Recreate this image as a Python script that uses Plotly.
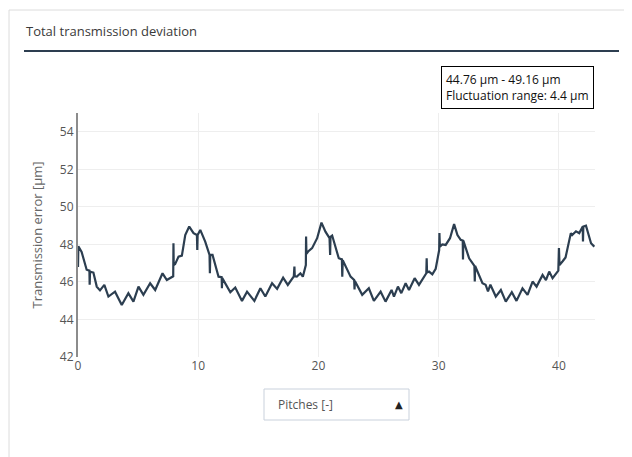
import plotly.graph_objects as go

# ---- data ----
pitch = [
    0.0, 0.03, 0.3, 0.72, 0.95, 0.97, 1.0, 1.28, 1.56, 1.83, 2.19, 2.53, 3.08, 3.64, 4.19, 4.61,
    5.03, 5.44, 6.0, 6.42, 7.03, 7.39, 7.92, 7.94, 7.96, 8.08, 8.36, 8.64,
    8.92, 9.25, 9.61, 9.89, 9.92, 9.95, 10.17, 10.58, 10.94, 10.97, 11.0, 11.19, 11.42, 11.69,
    11.95, 11.97, 12.0, 12.67, 13.08, 13.64, 14.06, 14.67, 15.17, 15.58, 16.14, 16.56, 17.06,
    17.45, 17.95, 18.0, 18.03, 18.2, 18.5, 18.7, 18.95, 18.97, 19.0, 19.14, 19.47, 19.89, 20.25,
    20.58, 20.92, 20.97, 21.0, 21.14, 21.69, 21.95, 21.98, 22.02, 22.67, 22.97, 23.0, 23.03,
    23.64, 24.19, 24.61, 25.17, 25.58, 26.08,
    26.28, 26.61, 26.89, 27.25, 27.53, 28.0, 28.36, 28.97, 29.0, 29.03, 29.2, 29.47, 29.75,
    30.04, 30.06, 30.1, 30.3, 30.58, 30.94, 31.28, 31.56, 31.83, 32.0, 32.02, 32.05, 32.53,
    32.89, 32.97, 33.0, 33.03, 33.64, 33.9, 34.1, 34.3, 34.75,
    35.17, 35.58, 36.08, 36.47, 36.97, 37.39, 37.81, 38.14, 38.64, 38.92, 39.19, 39.47, 39.95,
    40.0, 40.05, 40.31, 40.55, 40.99, 41.1, 41.42, 41.69, 41.98, 42.0, 42.03, 42.25, 42.67, 42.94,
]
error_um = [
    46.8, 47.9, 47.6, 46.65, 46.6, 45.85, 46.55, 46.5, 45.75, 45.55, 45.84, 45.22, 45.48, 44.77, 45.4, 44.95,
    45.75, 45.31, 45.93, 45.57, 46.46, 46.1, 46.3, 48.06, 46.9, 46.95, 47.35, 47.4,
    48.5, 48.95, 48.6, 48.5, 47.7, 48.5, 48.77, 48.15, 47.44, 46.46, 47.44, 47.44, 46.9, 46.28,
    46.25, 45.66, 46.2, 45.45, 45.7, 44.99, 45.48, 44.99, 45.66, 45.22, 45.93, 45.63, 46.23,
    45.84, 46.3, 46.82, 46.3, 46.28, 46.46, 46.28, 46.9, 48.42, 47.5, 47.62, 47.8, 48.33, 49.16,
    48.68, 48.33, 47.44, 48.4, 48.47, 47.26, 47.2, 46.28, 47.15, 46.28, 46.1, 45.6, 46.05,
    45.31, 45.66, 44.99, 45.48, 44.95, 45.57,
    45.22, 45.75, 45.4, 45.93, 45.57, 46.2, 45.84, 46.46, 47.26, 46.5, 46.55, 46.4, 46.7,
    47.7, 48.6, 47.88, 48.0, 47.97, 48.33, 49.08, 48.5, 48.24, 48.2, 47.2, 48.2, 47.26,
    46.9, 46.85, 46.02, 46.85, 45.93, 45.85, 45.5, 45.85, 45.22,
    45.57, 44.95, 45.45, 44.99, 45.66, 45.31, 46.02, 45.75, 46.37, 46.1, 46.55, 46.2, 46.6,
    47.8, 46.9, 47.1, 47.3, 48.6, 48.5, 48.7, 48.6, 48.95, 48.15, 48.95, 49.0, 48.06, 47.88,
]
x_ticks = [0, 10, 20, 30, 40]
y_ticks = [42, 44, 46, 48, 50, 52, 54]

card_title = "Total transmission deviation"
range_text = "44.76 µm - 49.16 µm<br>Fluctuation range: 4.4 µm"
y_title = "Transmission error [µm]"
x_title = "Pitches [-]"

# ---- layout geometry (page body has an 8px margin) ----
OFF = 8
W, H = 632 - OFF, 457 - OFF
ML, MR, MT, MB = 78 - OFF, 37, 113 - OFF, 100
PW, PH = W - ML - MR, H - MT - MB


def px(x):
    # page pixel -> paper coordinate
    return (x - OFF - ML) / PW


def py(y):
    return (H - MB - (y - OFF)) / PH


fig = go.Figure()
fig.add_trace(go.Scatter(
    x=pitch, y=error_um, mode="lines",
    line=dict(color="#2c3e50", width=2.2),
    hoverinfo="x+y",
))

shapes = [
    # card border
    dict(type="rect", xref="paper", yref="paper",
         x0=px(9), x1=px(625), y0=py(10), y1=py(475),
         line=dict(color="#dcdcdc", width=1), fillcolor="rgba(0,0,0,0)", layer="below"),
    # title underline
    dict(type="line", xref="paper", yref="paper",
         x0=px(24), x1=px(619), y0=py(51), y1=py(51),
         line=dict(color="#2d3e50", width=2)),
    # dropdown box
    dict(type="rect", xref="paper", yref="paper",
         x0=px(264), x1=px(409), y0=py(389), y1=py(420),
         line=dict(color="#c9d1dc", width=1), fillcolor="white"),
]

annotations = [
    dict(text=card_title, xref="paper", yref="paper", x=px(24), y=py(31),
         xanchor="left", yanchor="middle", showarrow=False,
         font=dict(family="Open Sans", size=13, color="#3a3a3a")),
    dict(text=range_text, xref="paper", yref="paper", x=px(594), y=py(66),
         xanchor="right", yanchor="top", showarrow=False, align="left",
         bordercolor="#000000", borderwidth=1, borderpad=4, bgcolor="white",
         font=dict(family="Open Sans", size=12, color="#111111")),
    dict(text=x_title, xref="paper", yref="paper", x=px(276), y=py(404),
         xanchor="left", yanchor="middle", showarrow=False,
         font=dict(family="Open Sans", size=12, color="#555555")),
    dict(text="▲", xref="paper", yref="paper", x=px(399), y=py(404),
         xanchor="center", yanchor="middle", showarrow=False,
         font=dict(family="DejaVu Sans", size=10, color="#222222")),
]

fig.update_layout(
    width=W, height=H,
    margin=dict(l=ML, r=MR, t=MT, b=MB, pad=0),
    paper_bgcolor="white", plot_bgcolor="white",
    showlegend=False,
    font=dict(family="Open Sans", size=12, color="#555555"),
    shapes=shapes, annotations=annotations,
    xaxis=dict(range=[0, 43], tickvals=x_ticks, showgrid=True, gridcolor="#eeeeee",
               zeroline=False, showline=False, ticks="",
               tickfont=dict(size=12, color="#555555")),
    yaxis=dict(range=[42, 55], tickvals=y_ticks, showgrid=True, gridcolor="#eeeeee",
               zeroline=False, showline=True, linecolor="#8c8c8c", linewidth=2, ticks="",
               tickfont=dict(size=12, color="#555555"),
               title=dict(text=y_title, font=dict(size=13, color="#666666"), standoff=14)),
)

fig.write_html("out.html", config={"displayModeBar": False})
